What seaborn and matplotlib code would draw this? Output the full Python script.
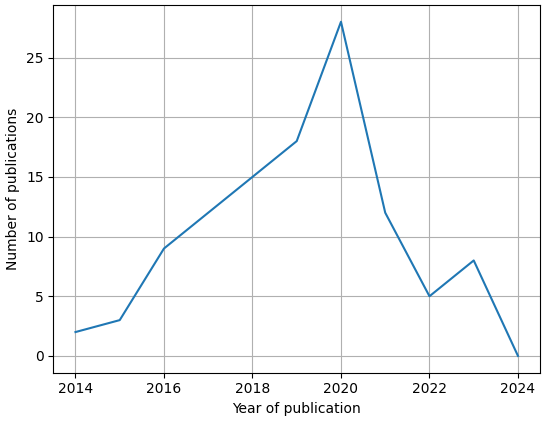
import matplotlib
matplotlib.use('Agg')
from matplotlib import pyplot as plt
import pandas as pd
import seaborn as sns

# publications per year
years = [2014, 2015, 2016, 2017, 2018, 2019, 2020, 2021, 2022, 2023, 2024]
counts = [2, 3, 9, 12, 15, 18, 28, 12, 5, 8, 0]

df = pd.DataFrame({'Year': years, 'Count': counts})

fig, ax = plt.subplots(figsize=(5.5, 4.22), dpi=100)
fig.subplots_adjust(left=0.097, right=0.982, top=0.988, bottom=0.117)

sns.lineplot(data=df, x='Year', y='Count', ax=ax, color='#1f77b4', linewidth=1.5)

ax.grid(True, color='#b0b0b0', linewidth=0.8)
ax.set_xlabel('Year of publication')
ax.set_ylabel('Number of publications')

fig.savefig('out.png', dpi=100)
